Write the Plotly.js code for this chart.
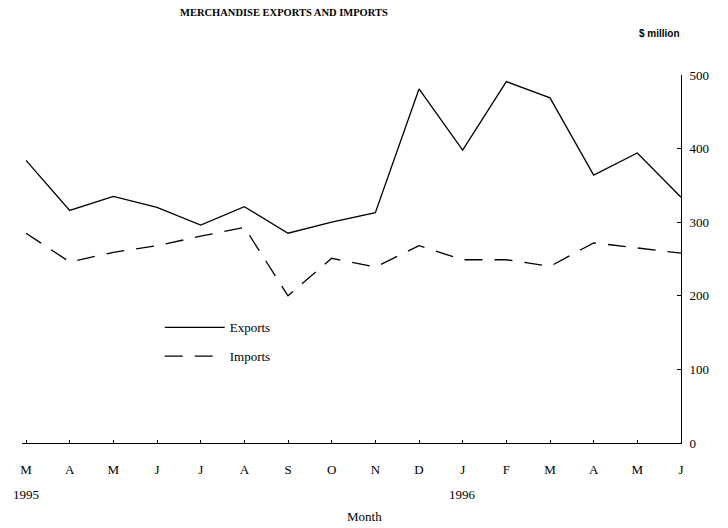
<!DOCTYPE html>
<html>
<head>
<meta charset="utf-8">
<script src="https://cdn.plot.ly/plotly-3.0.1.min.js"></script>
<style>
  html, body { margin: 0; padding: 0; background: #fff; }
  #chart { width: 728px; height: 528px; }
</style>
</head>
<body>
<div id="chart"></div>
<script>
// Month tick labels (Mar 1995 – Jun 1996)
const months = ["M", "A", "M", "J", "J", "A", "S", "O", "N", "D", "J", "F", "M", "A", "M", "J"];
// $ million
const exportsVals = [384, 316, 335, 320, 296, 321, 285, 300, 313, 481, 398, 491, 469, 364, 394, 334];
const importsVals = [285, 246, 259, 268, 281, 293, 200, 251, 239, 268, 249, 249, 240, 272, 265, 258];
const yTicks = [0, 100, 200, 300, 400, 500];
const yearLabels = [{ idx: 0, text: "1995" }, { idx: 10, text: "1996" }];

const xIdx = months.map((_, i) => i);
const serif = "Liberation Serif, Times New Roman, serif";

const traces = [
  {
    x: xIdx, y: exportsVals, name: "Exports", type: "scatter", mode: "lines",
    line: { color: "#000", width: 1.3 }, legendgroup: "e", showlegend: true
  },
  {
    x: xIdx, y: importsVals, name: "Imports", type: "scatter", mode: "lines",
    line: { color: "#000", width: 1.3, dash: "18px,12px" }, legendgroup: "i", showlegend: true
  }
];

const annotations = yearLabels.map(y => ({
  x: y.idx, xref: "x", y: -0.141, yref: "paper", text: y.text, showarrow: false,
  font: { family: serif, size: 13, color: "#000" }, xanchor: "center", yanchor: "middle"
}));
annotations.push({
  x: 0.52, xref: "paper", y: -0.201, yref: "paper", text: "Month", showarrow: false,
  font: { family: serif, size: 13, color: "#000" }, xanchor: "center", yanchor: "middle"
});
annotations.push({
  x: 0.968, xref: "paper", y: 1.114, yref: "paper", text: "$ million", showarrow: false,
  font: { family: "Liberation Sans, Arial, sans-serif", size: 10, color: "#000", weight: "bold" },
  xanchor: "center", yanchor: "middle"
});

const layout = {
  width: 728, height: 528,
  paper_bgcolor: "#fff", plot_bgcolor: "#fff",
  margin: { l: 22, r: 47, t: 75, b: 85 },
  title: {
    text: "<b>MERCHANDISE EXPORTS AND IMPORTS</b>",
    font: { family: serif, size: 10.5, color: "#000" },
    xref: "container", x: 0.39, xanchor: "center",
    yref: "container", y: 0.983, yanchor: "top"
  },
  xaxis: {
    range: [-0.092, 15], tickvals: xIdx, ticktext: months,
    showline: true, linecolor: "#000", linewidth: 1,
    ticks: "inside", ticklen: 3, tickcolor: "#000",
    showgrid: false, zeroline: false,
    tickfont: { family: serif, size: 13, color: "#000" },
    ticklabelstandoff: 14
  },
  yaxis: {
    side: "right", range: [0, 500], tickvals: yTicks,
    showline: true, linecolor: "#000", linewidth: 1,
    ticks: "inside", ticklen: 4, tickcolor: "#000",
    showgrid: false, zeroline: false,
    tickfont: { family: serif, size: 13, color: "#000" },
    ticklabelstandoff: 5
  },
  showlegend: true,
  legend: {
    x: 0.209, xanchor: "left", y: 0.355, yanchor: "top",
    bgcolor: "rgba(0,0,0,0)", borderwidth: 0,
    font: { family: serif, size: 13, color: "#000" },
    traceorder: "grouped", tracegroupgap: 9, itemwidth: 60
  },
  annotations: annotations
};

Plotly.newPlot("chart", traces, layout, { displayModeBar: false, staticPlot: true });
</script>
</body>
</html>
